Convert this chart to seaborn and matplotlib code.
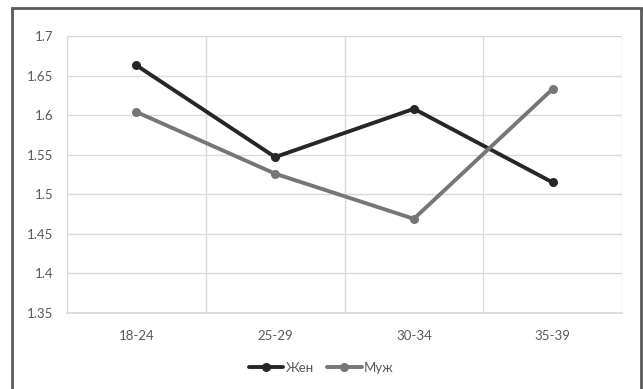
import matplotlib
matplotlib.use("Agg")
import matplotlib.pyplot as plt
import matplotlib.patches as mpatches
from matplotlib.ticker import FixedLocator, FuncFormatter
import seaborn as sns
import pandas as pd

categories = ["18-24", "25-29", "30-34", "35-39"]
women = [1.663, 1.547, 1.608, 1.515]
men = [1.604, 1.526, 1.469, 1.633]
series_names = ["Жен", "Муж"]
y_ticks = [1.35, 1.4, 1.45, 1.5, 1.55, 1.6, 1.65, 1.7]

df = pd.DataFrame({
    "pos": list(range(len(categories))) * 2,
    "value": women + men,
    "series": [series_names[0]] * len(categories) + [series_names[1]] * len(categories),
})

sns.set_theme(style="white")
plt.rcParams["font.family"] = ["Lato", "DejaVu Sans"]

fig = plt.figure(figsize=(6.43, 3.89), dpi=100)
ax = fig.add_axes([67 / 643, 1 - 313 / 389, (622 - 67) / 643, (313 - 36) / 389])

palette = {"Жен": "#262626", "Муж": "#767676"}
sns.lineplot(data=df, x="pos", y="value", hue="series", palette=palette,
             marker="o", markersize=6.5, markeredgewidth=0, linewidth=2.8,
             ax=ax, legend=False, zorder=3)

ax.set_xlim(-0.5, len(categories) - 0.5)
ax.set_ylim(1.35, 1.7)
ax.set_xticks(range(len(categories)))
ax.set_xticklabels(categories)
ax.xaxis.set_minor_locator(FixedLocator([i - 0.5 for i in range(len(categories) + 1)]))
ax.set_yticks(y_ticks)
ax.yaxis.set_major_formatter(FuncFormatter(lambda v, p: f"{v:g}"))
ax.grid(False)
ax.grid(True, which="minor", axis="x", color="#d9d9d9", linewidth=1.0)
ax.grid(True, which="major", axis="y", color="#d9d9d9", linewidth=1.0)
ax.set_axisbelow(True)
for s in ax.spines.values():
    s.set_visible(False)
ax.spines["bottom"].set_visible(True)
ax.spines["bottom"].set_color("#d9d9d9")
ax.tick_params(axis="both", which="both", length=0, labelsize=9.5, labelcolor="#595959")
ax.tick_params(axis="x", pad=12)
ax.tick_params(axis="y", pad=10)
ax.set_xlabel("")
ax.set_ylabel("")

handles = [plt.Line2D([], [], color=palette[n], marker="o", markersize=6.5,
                      markeredgewidth=0, linewidth=2.8) for n in series_names]
fig.legend(handles, series_names, loc="center", bbox_to_anchor=(0.5, 1 - 368 / 389),
           ncol=2, frameon=False, fontsize=9.5, labelcolor="#595959",
           handlelength=2.6, handletextpad=0.2, columnspacing=1.0)

border = mpatches.Rectangle((12 / 643, -0.05), (641 - 12) / 643, 1.05 - 8 / 389,
                            transform=fig.transFigure, fill=False,
                            edgecolor="#595959", linewidth=2.0)
fig.patches.append(border)

fig.savefig("out.png", dpi=100, facecolor="white")
